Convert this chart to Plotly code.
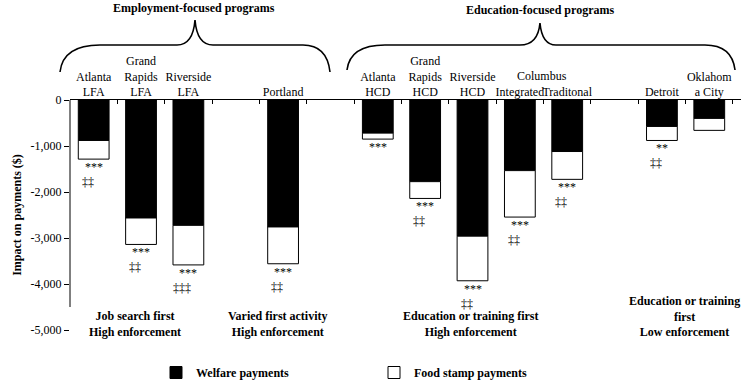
import plotly.graph_objects as go

SERIF = "Liberation Serif, Times New Roman, serif"

# ordem dos slots no eixo (inclui espaços vazios entre grupos)
slots = ["Atlanta<br>LFA", "Grand<br>Rapids<br>LFA", "Riverside<br>LFA", " ", "Portland", "  ",
         "Atlanta<br>HCD", "Grand<br>Rapids<br>HCD", "Riverside<br>HCD", "Integrated", "Traditonal",
         "   ", "Detroit", "Oklahom<br>a City"]

programs = ["Atlanta<br>LFA", "Grand<br>Rapids<br>LFA", "Riverside<br>LFA", "Portland",
            "Atlanta<br>HCD", "Grand<br>Rapids<br>HCD", "Riverside<br>HCD", "Integrated", "Traditonal",
            "Detroit", "Oklahom<br>a City"]
welfare = [-880, -2565, -2725, -2760, -720, -1775, -2960, -1535, -1120, -575, -400]
food_stamps = [-405, -575, -860, -800, -130, -365, -970, -1010, -605, -305, -260]
stars = ["***", "***", "***", "***", "***", "***", "***", "***", "***", "**", ""]
daggers = ["‡‡", "‡‡", "‡‡‡", "‡‡", "", "‡‡", "‡‡", "‡‡", "‡‡", "‡‡", ""]

y_ticks = [0, -1000, -2000, -3000, -4000, -5000]
y_ticktext = ["0", "-1,000", "-2,000", "-3,000", "-4,000", "-5,000"]

FIG_W, FIG_H = 741, 387
# área do gráfico em pixels
L, T, W, H = 70, 100, 671, 230


def px_x(px):
    return (px - L) / W


def px_y(py):
    return (T + H - py) / H


def brace_path(pts):
    s = ""
    for cmd, coords in pts:
        s += cmd + " " + " ".join(f"{px_x(x):.4f},{px_y(y):.4f}" for x, y in coords) + " "
    return s.strip()


def txt_font(bold=False):
    return dict(family=SERIF, size=12, color="black", weight="bold" if bold else "normal")


fig = go.Figure()
fig.add_trace(go.Bar(x=programs, y=welfare, name="Welfare payments", width=0.65,
                     marker=dict(color="black", line=dict(color="black", width=1))))
fig.add_trace(go.Bar(x=programs, y=food_stamps, name="Food stamp payments", width=0.65,
                     marker=dict(color="white", line=dict(color="black", width=1))))

annotations = []
for p, w, f, s, d in zip(programs, welfare, food_stamps, stars, daggers):
    if s:
        annotations.append(dict(x=p, y=w + f, xref="x", yref="y", text=s, showarrow=False,
                                xanchor="center", yanchor="middle", yshift=-8, font=txt_font()))
    if d:
        annotations.append(dict(x=p, y=w + f, xref="x", yref="y", text=d, showarrow=False,
                                xanchor="center", yanchor="middle", yshift=-23, xshift=-6,
                                font=txt_font()))

group_labels = [
    ("Job search first<br>High enforcement", 135, 324),
    ("Varied first activity<br>High enforcement", 278, 324),
    ("Education or training first<br>High enforcement", 471, 324),
    ("Education or training<br>first<br>Low enforcement", 684, 316),
]
for txt, cx, cy in group_labels:
    annotations.append(dict(x=px_x(cx), y=px_y(cy), xref="paper", yref="paper", text=txt,
                            xanchor="center", yanchor="middle", showarrow=False,
                            font=txt_font(True)))

headers = [("Employment-focused programs", 194, 8), ("Education-focused programs", 540, 10)]
for txt, cx, cy in headers:
    annotations.append(dict(x=px_x(cx), y=px_y(cy), xref="paper", yref="paper", text=txt,
                            xanchor="center", yanchor="middle", showarrow=False,
                            font=txt_font(True)))
annotations.append(dict(x=px_x(542), y=px_y(76), xref="paper", yref="paper", text="Columbus",
                        xanchor="center", yanchor="middle", showarrow=False, font=txt_font()))

emp_brace = brace_path([("M", [(60, 72)]), ("Q", [(63, 45), (100, 45)]), ("L", [(177, 45)]),
                        ("Q", [(193, 45), (195, 20)]), ("Q", [(197, 45), (213, 45)]),
                        ("L", [(303, 45)]), ("Q", [(327, 45), (330, 72)])])
edu_brace = brace_path([("M", [(347, 70)]), ("Q", [(350, 45), (385, 45)]), ("L", [(520, 45)]),
                        ("Q", [(538, 45), (540, 23)]), ("Q", [(542, 45), (556, 45)]),
                        ("L", [(705, 45)]), ("Q", [(732, 45), (735, 70)])])

shapes = [
    dict(type="path", path=emp_brace, xref="paper", yref="paper", line=dict(color="black", width=1.6)),
    dict(type="path", path=edu_brace, xref="paper", yref="paper", line=dict(color="black", width=1.6)),
    dict(type="line", xref="paper", yref="y", x0=0, x1=0, y0=0, y1=-4500,
         line=dict(color="black", width=1)),
]

fig.update_layout(
    width=FIG_W, height=FIG_H,
    barmode="relative",
    paper_bgcolor="white", plot_bgcolor="white",
    margin=dict(l=L, r=0, t=T, b=FIG_H - T - H, autoexpand=False),
    font=dict(family=SERIF, size=12, color="black"),
    xaxis=dict(side="top", type="category", categoryorder="array", categoryarray=slots,
               tickson="boundaries", ticks="inside", ticklen=4, tickcolor="black",
               showline=True, linecolor="black", linewidth=1, tickangle=0, automargin=False,
               ticklabelstandoff=-2,
               range=[-0.5, 13.67], showgrid=False, zeroline=False, tickfont=txt_font()),
    yaxis=dict(range=[-5000, 0], tickvals=y_ticks, ticktext=y_ticktext, ticks="outside",
               ticklen=5, tickcolor="black", showline=False, showgrid=False, zeroline=False,
               automargin=False,
               title=dict(text="Impact on payments ($)", font=txt_font(True), standoff=6),
               tickfont=txt_font()),
    legend=dict(orientation="h", x=px_x(156), y=px_y(358), xanchor="left", yanchor="top",
                entrywidth=173, font=txt_font(True), traceorder="normal"),
    annotations=annotations,
    shapes=shapes,
)

# remove a margem padrão do body para a figura ocupar a janela inteira
fig.write_html("out.html", config={"displayModeBar": False},
               post_script="document.body.style.margin='0';")
